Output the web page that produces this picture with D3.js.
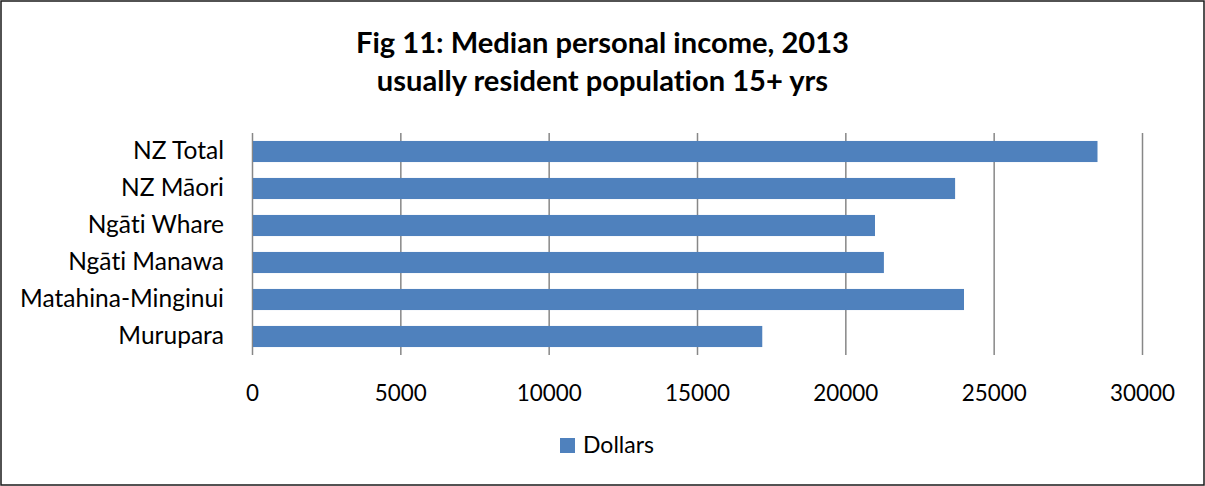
<!DOCTYPE html>
<html><head><meta charset="utf-8">
<script src="https://cdn.jsdelivr.net/npm/d3@7"></script>
<style>body{margin:0;background:#fff}svg{display:block}text{font-family:Lato,"Open Sans",sans-serif;font-variant-ligatures:none;font-feature-settings:"liga" 0,"clig" 0}</style>
</head><body><svg id="c" width="1205" height="486"></svg>
<script>
const categories = ["NZ Total","NZ Māori","Ngāti Whare","Ngāti Manawa","Matahina-Minginui","Murupara"];
const dollars = [28500,23700,21000,21300,24000,17200];
const xTicks = [0,5000,10000,15000,20000,25000,30000];
const titleLines = ["Fig 11: Median personal income, 2013","usually resident population 15+ yrs"];
const seriesName = "Dollars";

const svg = d3.select("#c");
svg.append("rect").attr("x",1).attr("y",1).attr("width",1203).attr("height",484)
  .attr("fill","#fff").attr("stroke","#1a1a1a").attr("stroke-width",1.5);

function fitSize(sample, target, weight){
  const t = svg.append("text").attr("font-size",20).attr("font-weight",weight||"normal").text(sample);
  const w = t.node().getComputedTextLength(); t.remove();
  return 20*target/w;
}
const titleSize = fitSize(titleLines[0], 493, "bold");
const catSize = fitSize("Matahina-Minginui", 204);
const tickSize = fitSize("20000", 65);
const legSize = fitSize(seriesName, 71);

const x = d3.scaleLinear().domain([0,30000]).range([252,1142]);
const y = d3.scaleBand().domain(categories).range([133,355]).paddingInner(0.43).paddingOuter(0.215);

svg.append("g").selectAll("line").data(xTicks).join("line")
  .attr("x1",d=>x(d)+0.5).attr("x2",d=>x(d)+0.5).attr("y1",133).attr("y2",355)
  .attr("stroke","#878787").attr("stroke-width",1.5);

svg.append("g").selectAll("rect").data(categories).join("rect")
  .attr("x",x(0)+1).attr("y",d=>y(d)).attr("height",y.bandwidth())
  .attr("width",(d,i)=>x(dollars[i])-x(0)-1).attr("fill","#4f81bd");

const xa = svg.append("g").attr("transform","translate(0,355)").call(d3.axisBottom(x).tickValues(xTicks).tickSize(0).tickPadding(0).tickFormat(d3.format("d")));
xa.select(".domain").remove();
xa.selectAll("text").attr("y",46).attr("dy",null).attr("font-size",tickSize).attr("fill","#000").style("font-family","Lato,'Open Sans',sans-serif");

const ya = svg.append("g").attr("transform","translate(252,0)").call(d3.axisLeft(y).tickSize(0).tickPadding(28));
ya.select(".domain").remove();
ya.selectAll("text").attr("font-size",catSize).attr("fill","#000").style("font-family","Lato,'Open Sans',sans-serif");

svg.append("g").selectAll("text").data(titleLines).join("text")
  .attr("x",602.5).attr("y",(d,i)=>53+i*38).attr("text-anchor","middle")
  .attr("font-size",titleSize).attr("font-weight","bold").attr("fill","#000").text(d=>d);

svg.append("rect").attr("x",560).attr("y",438).attr("width",15).attr("height",15).attr("fill","#4f81bd");
svg.append("text").attr("x",583).attr("y",453).attr("font-size",legSize).attr("fill","#000").text(seriesName);
</script></body></html>
